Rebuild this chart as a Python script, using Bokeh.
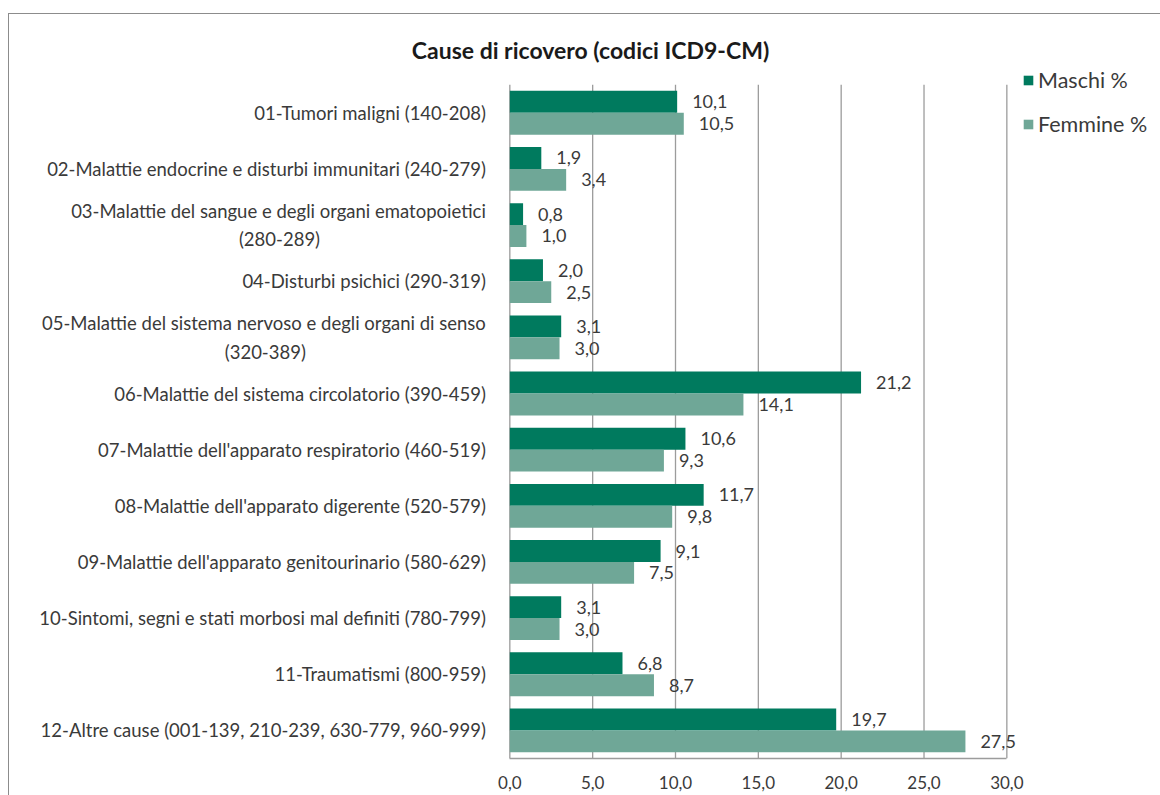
from bokeh.plotting import figure
from bokeh.models import (Range1d, FixedTicker, ColumnDataSource, LabelSet, Label,
                          Legend, LegendItem)
from bokeh.core.properties import value
from bokeh.embed import file_html
from bokeh.resources import INLINE

# ---------------- data ----------------
categories = [
    "01-Tumori maligni (140-208)",
    "02-Malattie endocrine e disturbi immunitari (240-279)",
    "03-Malattie del sangue e degli organi ematopoietici\n(280-289)",
    "04-Disturbi psichici (290-319)",
    "05-Malattie del sistema nervoso e degli organi di senso\n(320-389)",
    "06-Malattie del sistema circolatorio (390-459)",
    "07-Malattie dell'apparato respiratorio (460-519)",
    "08-Malattie dell'apparato digerente (520-579)",
    "09-Malattie dell'apparato genitourinario (580-629)",
    "10-Sintomi, segni e stati morbosi mal definiti (780-799)",
    "11-Traumatismi (800-959)",
    "12-Altre cause (001-139, 210-239, 630-779, 960-999)",
]
maschi = [10.1, 1.9, 0.8, 2.0, 3.1, 21.2, 10.6, 11.7, 9.1, 3.1, 6.8, 19.7]
femmine = [10.5, 3.4, 1.0, 2.5, 3.0, 14.1, 9.3, 9.8, 7.5, 3.0, 8.7, 27.5]
x_ticks = [0, 5, 10, 15, 20, 25, 30]
title_text = "Cause di ricovero (codici ICD9-CM)"
series_names = ["Maschi %", "Femmine %"]

# ---------------- style ----------------
C_M = "#007a5e"
C_F = "#6fa797"
TXT = "#3a3a3a"
GRID = "#9c9c9c"
FONT = "Lato"
X_LEFT = 30.2      # room left of the 0 line for category labels
X_EXTRA = 8.55     # room right of the 30 gridline for labels and legend
Y_EXTRA = 1.0      # room above the first category for the title
CENTER_PAD = {2: 35, 4: 38}   # non-breaking spaces to centre wrapped 2nd lines

def fmt(v):
    return f"{v:.1f}".replace(".", ",")

def cat_label(i, c):
    if "\n" in c:
        a, b = c.split("\n")
        return a + "\n" + b + "\u00a0" * CENTER_PAD.get(i, 0)
    return c

n = len(categories)
idx = list(range(n))
off = 0.195
bar_h = 0.39

src_m = ColumnDataSource(dict(y=[i - off for i in idx], v=maschi, t=[fmt(v) for v in maschi]))
src_f = ColumnDataSource(dict(y=[i + off for i in idx], v=femmine, t=[fmt(v) for v in femmine]))
src_c = ColumnDataSource(dict(y=idx, x=[x_ticks[0]] * n,
                              t=[cat_label(i, c) for i, c in zip(idx, categories)]))

y_top = -0.5 - Y_EXTRA
y_bot = n - 0.5

p = figure(width=1152, height=782, output_backend="svg", toolbar_location=None,
           x_range=Range1d(x_ticks[0] - X_LEFT, x_ticks[-1] + X_EXTRA),
           y_range=Range1d(y_bot, y_top),
           min_border_left=0, min_border_right=13, min_border_top=14, min_border_bottom=38,
           margin=(13, 0, 0, 8),
           styles={"border-top": "1px solid #8c8c8c", "border-left": "1px solid #8c8c8c"})
p.outline_line_color = None
p.background_fill_color = "white"
p.border_fill_color = "white"

# vertical gridlines limited to the plotting band
p.segment(x0=x_ticks, x1=x_ticks, y0=[-0.5] * len(x_ticks), y1=[y_bot] * len(x_ticks),
          line_color=GRID, line_width=1.3)

rm = p.hbar(y="y", right="v", left=0, height=bar_h, source=src_m, fill_color=C_M, line_color=None)
rf = p.hbar(y="y", right="v", left=0, height=bar_h, source=src_f, fill_color=C_F, line_color=None)

for src in (src_m, src_f):
    p.add_layout(LabelSet(x="v", y="y", text="t", source=src, x_offset=15,
                          text_baseline="middle", text_align="left",
                          text_font=value(FONT), text_font_size="18px", text_color=TXT))

# category labels
p.text(x="x", y="y", text="t", source=src_c, x_offset=-24, text_align="right",
       text_baseline="middle", text_font=value(FONT), text_font_size="18.5px",
       text_color=TXT, text_line_height=1.3)

# x axis
p.xaxis.ticker = FixedTicker(ticks=x_ticks)
p.xaxis.bounds = (x_ticks[0], x_ticks[-1])
p.xaxis.major_label_overrides = {t: fmt(t) for t in x_ticks}
p.xaxis.axis_line_color = GRID
p.xaxis.axis_line_width = 1.3
p.xaxis.major_tick_line_color = None
p.xaxis.minor_tick_line_color = None
p.xaxis.major_tick_out = 0
p.xaxis.major_label_standoff = 17
p.xaxis.major_label_text_font = FONT
p.xaxis.major_label_text_font_size = "17px"
p.xaxis.major_label_text_color = TXT

p.yaxis.visible = False
p.xgrid.grid_line_color = None
p.ygrid.grid_line_color = None

# title
p.add_layout(Label(x=581, y=709, x_units="screen", y_units="screen", text=title_text,
                   text_align="center", text_baseline="middle", text_font=FONT,
                   text_font_style="bold", text_font_size="23px", text_color="#1a1a1a"))

# legend
legend = Legend(items=[LegendItem(label=series_names[0], renderers=[rm]),
                       LegendItem(label=series_names[1], renderers=[rf])],
                location=(1013, 621), orientation="vertical",
                glyph_width=12, glyph_height=12, label_height=26, spacing=18,
                label_standoff=4, padding=0, margin=0,
                label_text_font=FONT, label_text_font_size="21.5px", label_text_color=TXT,
                border_line_color=None, background_fill_alpha=0)
p.add_layout(legend)

open("out.html", "w").write(file_html(p, INLINE))
